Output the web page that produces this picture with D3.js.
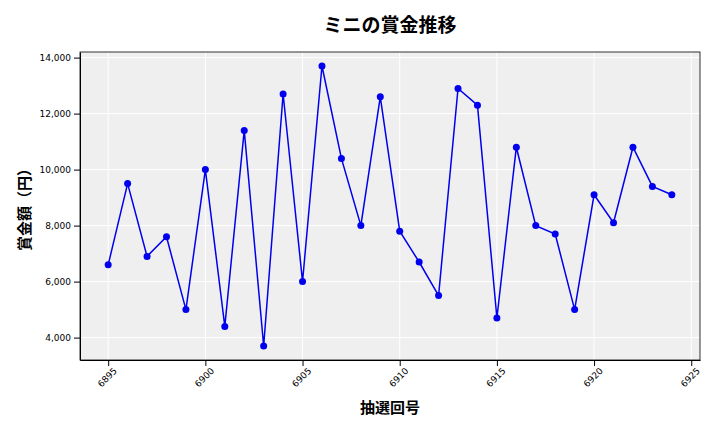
<!DOCTYPE html>
<html><head><meta charset="utf-8">
<script src="https://cdn.jsdelivr.net/npm/d3@7"></script>
<style>
body{margin:0;background:#fff;font-family:"Noto Sans CJK JP","Noto Sans",sans-serif;}
.tick text{font-family:"DejaVu Sans",sans-serif;font-size:9px;fill:#000;}
</style></head><body><svg id="c" width="720" height="432"></svg>
<script>
const draws = d3.range(6895, 6925);
const prizes = [6600,9500,6900,7600,5000,10000,4400,11400,3700,12700,6000,13700,10400,8000,12600,
  7800,6700,5500,12900,12300,4700,10800,8000,7700,5000,9100,8100,10800,9400,9100];
const xTicks = [6895,6900,6905,6910,6915,6920,6925];
const yTicks = [4000,6000,8000,10000,12000,14000];

const svg = d3.select('#c');
const m = {l:80, r:700, t:52, b:360};
const x = d3.scaleLinear().domain([6893.55, 6925.45]).range([m.l, m.r]);
const y = d3.scaleLinear().domain([3200, 14200]).range([m.b, m.t]);

svg.append('rect').attr('x', m.l).attr('y', m.t).attr('width', m.r-m.l).attr('height', m.b-m.t)
  .attr('fill', '#efefef');
// grid
svg.append('g').selectAll('line').data(xTicks).join('line')
  .attr('x1', d => x(d)).attr('x2', d => x(d)).attr('y1', m.t).attr('y2', m.b)
  .attr('stroke', '#fff').attr('stroke-width', 1);
svg.append('g').selectAll('line').data(yTicks).join('line')
  .attr('y1', d => y(d)).attr('y2', d => y(d)).attr('x1', m.l).attr('x2', m.r)
  .attr('stroke', '#fff').attr('stroke-width', 1);

const xa = svg.append('g').attr('transform', `translate(0,${m.b})`)
  .call(d3.axisBottom(x).tickValues(xTicks).tickFormat(d3.format('d')).tickSizeOuter(0));
xa.selectAll('text').attr('transform', 'rotate(-45)').attr('text-anchor', 'end')
  .attr('dx', '-0.2em').attr('dy', '0.6em');
svg.append('g').attr('transform', `translate(${m.l},0)`)
  .call(d3.axisLeft(y).tickValues(yTicks).tickFormat(d3.format(',')).tickSizeOuter(0));
svg.append('rect').attr('x', m.l).attr('y', m.t).attr('width', m.r-m.l).attr('height', m.b-m.t)
  .attr('fill', 'none').attr('stroke', '#000').attr('stroke-width', 0.8);

svg.append('path').datum(prizes)
  .attr('d', d3.line().x((d, i) => x(draws[i])).y(d => y(d)))
  .attr('fill', 'none').attr('stroke', '#0000ee').attr('stroke-width', 1.5);
svg.append('g').selectAll('circle').data(prizes).join('circle')
  .attr('cx', (d, i) => x(draws[i])).attr('cy', d => y(d)).attr('r', 3.5).attr('fill', '#0000ee');

svg.append('text').attr('x', 390).attr('y', 32).attr('text-anchor', 'middle')
  .attr('font-size', 19).attr('font-weight', 'bold').text('ミニの賞金推移');
svg.append('text').attr('x', 390).attr('y', 413).attr('text-anchor', 'middle')
  .attr('font-size', 15).attr('font-weight', 'bold').text('抽選回号');
svg.append('text').attr('transform', `translate(30,${(m.t+m.b)/2}) rotate(-90)`).attr('text-anchor', 'middle')
  .attr('font-size', 15).attr('font-weight', 'bold').text('賞金額（円）');
</script></body></html>
